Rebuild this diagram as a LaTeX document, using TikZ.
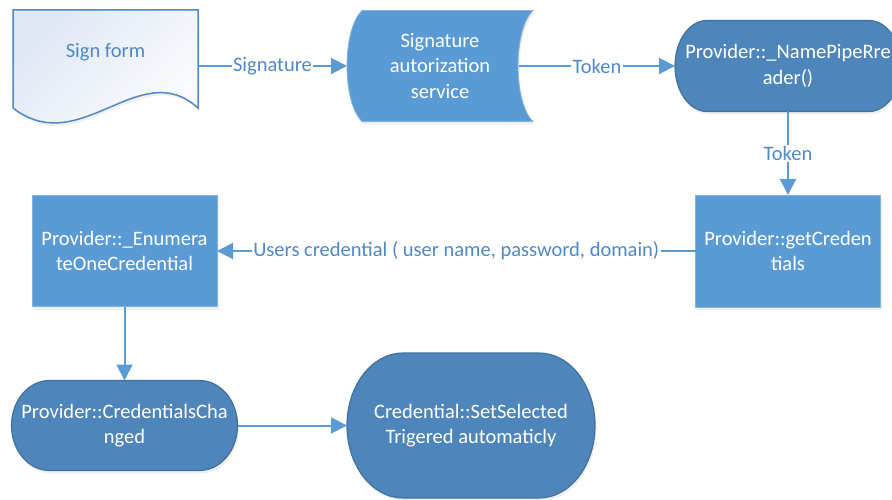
\documentclass[tikz,border=0pt]{standalone}
\usepackage{fontspec}
\setmainfont{Carlito}
\usetikzlibrary{arrows.meta,shadows}
\definecolor{lightblue}{HTML}{5B9BD5}
\definecolor{darkfill}{HTML}{4E86BC}
\definecolor{darkline}{HTML}{41719C}
\definecolor{labelblue}{HTML}{4F89C7}
\definecolor{docline}{HTML}{5089C6}
\definecolor{docfill}{HTML}{E0E8F5}
\pgfdeclarelayer{bg}
\pgfsetlayers{bg,main}
\newcommand\stadiumpath[3]{%
  \path[stadfill] ([xshift=#2]#1.north west) -- ([xshift=-#2]#1.north east)
    arc[start angle=90, end angle=-90, x radius=#2, y radius=#3]
    -- ([xshift=#2]#1.south west)
    arc[start angle=270, end angle=90, x radius=#2, y radius=#3] -- cycle;}
\begin{document}
\begin{tikzpicture}[x=1pt,y=1pt,
  base/.style={font=\fontsize{20.5}{25.5}\selectfont, align=center, inner sep=0pt, outer sep=0pt},
  holder/.style={base, rectangle, text=white},
  conn/.style={draw=lightblue, line width=2pt, -{Triangle[length=16pt,width=16pt]}},
  lab/.style={base, fill=white, text=labelblue, inner sep=1.5pt},
  softshadow/.style={drop shadow={shadow xshift=1.5pt, shadow yshift=-3pt, opacity=0.12, fill=black!50}},
  boxfill/.style={fill=lightblue, draw=lightblue!75!white, line width=0.8pt, softshadow},
  stadfill/.style={fill=darkfill, draw=darkline, line width=1.2pt, softshadow},
  docstyle/.style={draw=docline, line width=1.5pt, top color=docfill, bottom color=white, shading angle=45, softshadow},
]
\useasboundingbox (0,0) rectangle (892,-500);

% nodes
\node[holder, minimum width=185pt, minimum height=112pt] (sign) at (105.5,-66) {};
\node[base, text=labelblue] (signtxt) at (105.5,-52) {Sign form};
\node[holder, minimum width=186pt, minimum height=111pt] (svc) at (440,-66) {Signature\\autorization\\service};
\node[holder, minimum width=226pt, minimum height=91pt] (npr) at (788,-66) {Provider::\_NamePipeRre\\ader()};
\node[holder, minimum width=185pt, minimum height=112pt] (getc) at (788,-251) {Provider::getCreden\\tials};
\node[holder, minimum width=185pt, minimum height=111pt] (enum) at (124.5,-251) {Provider::\_Enumera\\teOneCredential};
\node[holder, minimum width=226pt, minimum height=90pt] (chg) at (124.5,-425.5) {Provider::CredentialsCha\\nged};
\node[holder, minimum width=248pt, minimum height=145pt] (sel) at (471,-425.5) {Credential::SetSelected\\Trigered automaticly};

% shapes
\begin{pgfonlayer}{bg}
  \path[docstyle] (13,-10) -- (198,-10) -- (198,-108)
     .. controls (140,-55) and (80,-160) .. (13,-108) -- cycle;
  \path[boxfill] (362,-10.5) -- (533,-10.5)
     .. controls (513,-30) and (513,-102) .. (533,-121.5) -- (362,-121.5)
     .. controls (342,-102) and (342,-30) .. (362,-10.5) -- cycle;
  \stadiumpath{npr}{32pt}{45.5pt}
  \path[boxfill] (getc.north west) rectangle (getc.south east);
  \path[boxfill] (enum.north west) rectangle (enum.south east);
  \stadiumpath{chg}{38pt}{45pt}
  \stadiumpath{sel}{56pt}{72.5pt}
\end{pgfonlayer}

% connectors
\draw[conn] (sign.east) -- node[lab]{Signature} (svc.west);
\draw[conn] ([xshift=-14pt]svc.east) -- node[lab]{Token} (npr.west);
\draw[conn] (npr.south) -- node[lab]{Token} (getc.north);
\draw[conn] (getc.west) -- node[lab]{Users credential ( user name, password, domain)} (enum.east);
\draw[conn] (enum.south) -- (chg.north);
\draw[conn] (chg.east) -- (sel.west);
\end{tikzpicture}
\end{document}
